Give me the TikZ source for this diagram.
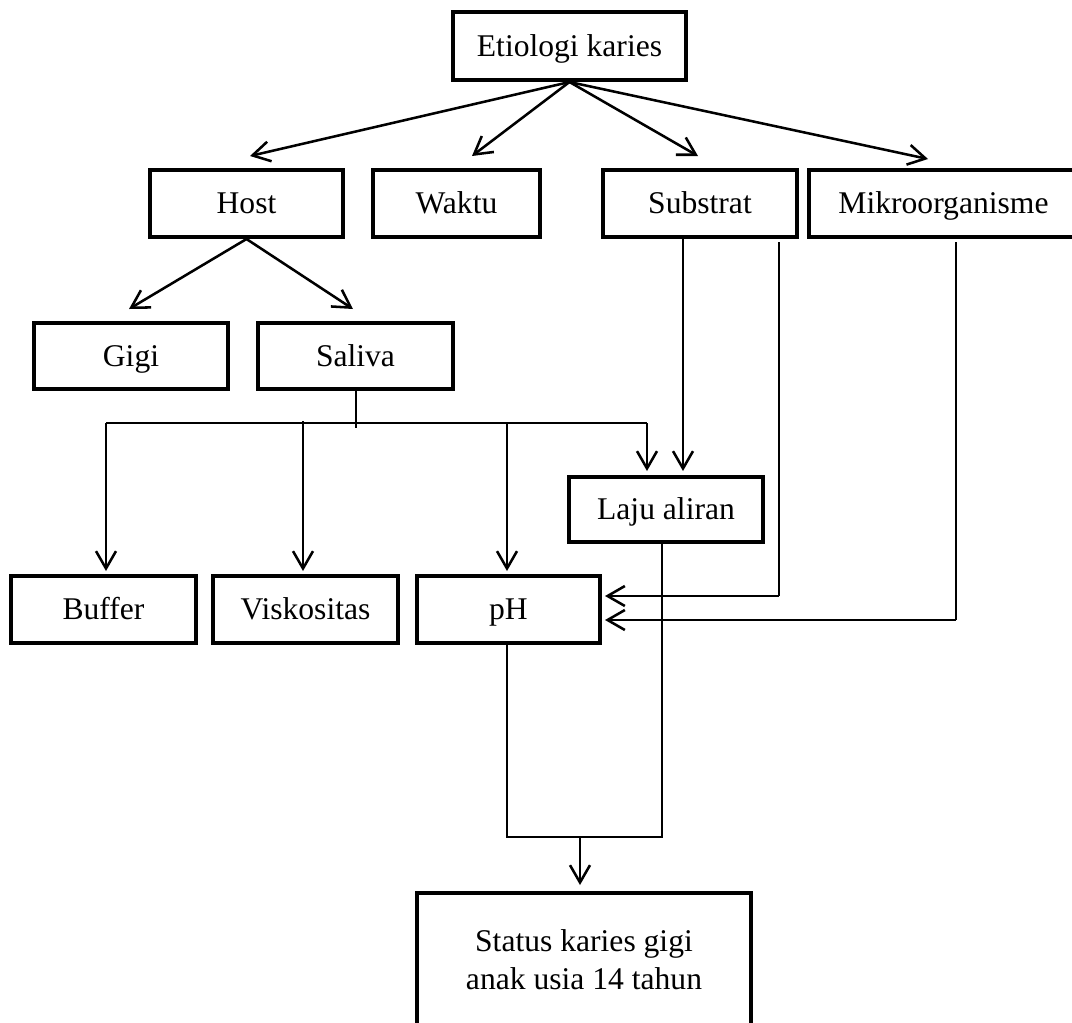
\documentclass[tikz,border=0pt]{standalone}
\usepackage{fontspec}
\setmainfont{Liberation Serif}
\usetikzlibrary{arrows.meta,calc}
\begin{document}
\begin{tikzpicture}[x=0.75pt,y=-0.75pt,
  box/.style={draw, line width=3pt, inner sep=0pt, font=\fontsize{23.7}{28.5}\selectfont, align=center, text height=15.7pt, text depth=0pt},
  bigbox/.style={draw, line width=3pt, inner sep=0pt, font=\fontsize{23.7}{28.5}\selectfont, align=center},
  arr/.style={line width=1.9pt, -{Straight Barb[length=13pt,width=15pt]}},
  thinline/.style={line width=1pt},
  midline/.style={line width=1.5pt}]
\useasboundingbox (0,0) rectangle (1072,1022);
\clip (0,0) rectangle (1072,1022);

% nodes
\node[box, minimum width=174.75pt, minimum height=51pt] (etio) at (569.5,46) {Etiologi karies};
\node[box, minimum width=144.75pt, minimum height=50.25pt] (host) at (246.5,203.5) {Host};
\node[box, minimum width=125.25pt, minimum height=50.25pt] (waktu) at (456.5,203.5) {Waktu};
\node[box, minimum width=145.5pt, minimum height=50.25pt] (substrat) at (700,203.5) {Substrat};
\node[box, minimum width=201.75pt, minimum height=50.25pt] (mikro) at (943.5,203.5) {Mikroorganisme};
\node[box, minimum width=145.5pt, minimum height=49.5pt] (gigi) at (131,356) {Gigi};
\node[box, minimum width=146.25pt, minimum height=49.5pt] (saliva) at (355.5,356) {Saliva};
\node[box, minimum width=145.5pt, minimum height=48.75pt] (laju) at (666,509.5) {Laju aliran};
\node[box, minimum width=138.75pt, minimum height=50.25pt] (buffer) at (103.5,609.5) {Buffer};
\node[box, minimum width=138.75pt, minimum height=50.25pt] (visk) at (305.5,609.5) {Viskositas};
\node[box, minimum width=137.25pt, minimum height=50.25pt] (ph) at (508.5,609.5) {pH};
\node[bigbox, minimum width=250.5pt, minimum height=100.5pt] (status) at (584,960) {Status karies gigi\\anak usia 14 tahun};

% from Etiologi karies
\draw[arr] (etio.south) -- ($(host.north)+(3.5,-12)$);
\draw[arr] (etio.south) -- ($(waktu.north)+(15.5,-12)$);
\draw[arr] (etio.south) -- ($(substrat.north)+(-2,-12)$);
\draw[arr] (etio.south) -- ($(mikro.north)+(-15.5,-9)$);

% from Host
\draw[arr] (host.south) -- ($(gigi.north)+(-2,-12)$);
\draw[arr] (host.south) -- ($(saliva.north)+(-2.5,-12)$);

% Saliva branches
\coordinate (sl) at (106,423);
\coordinate (sr) at (647,423);
\draw[midline] (saliva.south) -- ++(0,37);
\draw[midline] (sl) -- (sr);
\draw[arr] (sl) -- ($(buffer.north)+(2.5,-3)$);
\draw[arr] (303,421) -- ($(visk.north)+(-2.5,-3)$);
\draw[arr] (507,423) -- ($(ph.north)+(-1.5,-3)$);
\draw[arr] (sr) -- ($(laju.north)+(-19,-4)$);

% Substrat
\draw[arr] ($(substrat.south)+(-17,0)$) -- ($(laju.north)+(17,-4)$);
\coordinate (s1) at ($(substrat.south east)+(-20,3)$);
\coordinate (s2) at ($(ph.east)+(3,-13.5)$);
\draw[thinline] (s1) -- (s1 |- s2);
\draw[arr] (s1 |- s2) -- (s2);

% Mikroorganisme
\coordinate (m1) at ($(mikro.south)+(12.5,3)$);
\coordinate (m2) at ($(ph.east)+(3,10.5)$);
\draw[thinline] (m1) -- (m1 |- m2);
\draw[arr] (m1 |- m2) -- (m2);

% to Status
\coordinate (lj) at ($(laju.south)+(-4,0)$);
\coordinate (pj) at ($(ph.south)+(-1.5,0)$);
\draw[thinline] (lj) -- (lj |- 0,837) -- (pj |- 0,837) -- (pj);
\draw[arr] (580,837) -- ($(status.north)+(-4,-6)$);
\end{tikzpicture}
\end{document}
